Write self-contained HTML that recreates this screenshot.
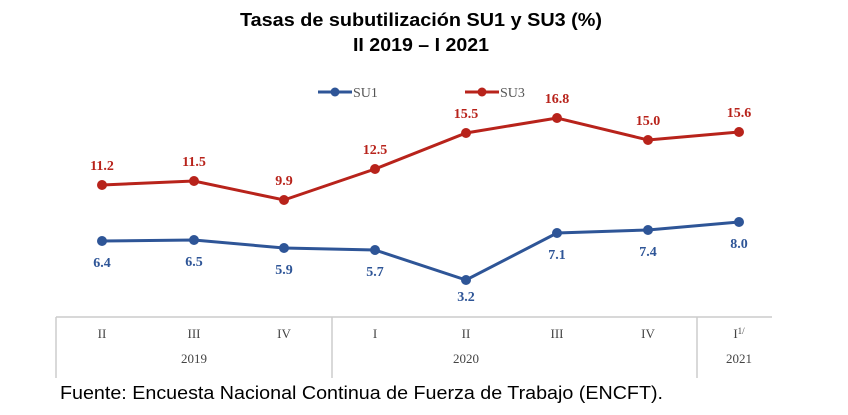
<!DOCTYPE html><html><head><style>body{margin:0;background:#fff}</style></head><body>
<svg width="848" height="410" xmlns="http://www.w3.org/2000/svg">
<rect width="848" height="410" fill="#fff"/>
<g font-family="Liberation Sans, sans-serif" font-weight="bold" font-size="18" text-anchor="middle" fill="#000">
<text x="421" y="26" textLength="362" lengthAdjust="spacingAndGlyphs">Tasas de subutilización SU1 y SU3 (%)</text>
<text x="421" y="51" textLength="136" lengthAdjust="spacingAndGlyphs">II 2019 – I 2021</text></g>
<g font-family="Liberation Serif, serif" font-size="14" fill="#555">
<line x1="318" y1="92" x2="352" y2="92" stroke="#2e5597" stroke-width="3"/><circle cx="335" cy="92" r="4.5" fill="#2e5597"/><text x="353" y="97">SU1</text>
<line x1="465" y1="92" x2="499" y2="92" stroke="#b8231b" stroke-width="3"/><circle cx="482" cy="92" r="4.5" fill="#b8231b"/><text x="500" y="97">SU3</text></g>
<polyline points="102,185 194,181 284,200 375,169 466,133 557,118 648,140 739,132" fill="none" stroke="#b8231b" stroke-width="3"/>
<polyline points="102,241 194,240 284,248 375,250 466,280 557,233 648,230 739,222" fill="none" stroke="#2e5597" stroke-width="3"/>
<g fill="#b8231b"><circle cx="102" cy="185" r="5"/><circle cx="194" cy="181" r="5"/><circle cx="284" cy="200" r="5"/><circle cx="375" cy="169" r="5"/><circle cx="466" cy="133" r="5"/><circle cx="557" cy="118" r="5"/><circle cx="648" cy="140" r="5"/><circle cx="739" cy="132" r="5"/></g>
<g fill="#2e5597"><circle cx="102" cy="241" r="5"/><circle cx="194" cy="240" r="5"/><circle cx="284" cy="248" r="5"/><circle cx="375" cy="250" r="5"/><circle cx="466" cy="280" r="5"/><circle cx="557" cy="233" r="5"/><circle cx="648" cy="230" r="5"/><circle cx="739" cy="222" r="5"/></g>
<g font-family="Liberation Serif, serif" font-weight="bold" font-size="14" text-anchor="middle" fill="#b8231b">
<text x="102" y="170">11.2</text><text x="194" y="166">11.5</text><text x="284" y="185">9.9</text><text x="375" y="154">12.5</text><text x="466" y="118">15.5</text><text x="557" y="103">16.8</text><text x="648" y="125">15.0</text><text x="739" y="117">15.6</text></g>
<g font-family="Liberation Serif, serif" font-weight="bold" font-size="14" text-anchor="middle" fill="#2e5597">
<text x="102" y="267">6.4</text><text x="194" y="266">6.5</text><text x="284" y="274">5.9</text><text x="375" y="276">5.7</text><text x="466" y="301">3.2</text><text x="557" y="259">7.1</text><text x="648" y="256">7.4</text><text x="739" y="248">8.0</text></g>
<g stroke="#ccc" stroke-width="1.5" fill="none"><line x1="56" y1="317" x2="772" y2="317"/><line x1="56" y1="317" x2="56" y2="378"/><line x1="332" y1="317" x2="332" y2="378"/><line x1="697" y1="317" x2="697" y2="378"/></g>
<g font-family="Liberation Serif, serif" font-size="13" text-anchor="middle" fill="#444">
<text x="102" y="338">II</text><text x="194" y="338">III</text><text x="284" y="338">IV</text><text x="375" y="338">I</text><text x="466" y="338">II</text><text x="557" y="338">III</text><text x="648" y="338">IV</text><text x="739" y="338">I<tspan font-size="9" dy="-4">1/</tspan></text>
<text x="194" y="363">2019</text><text x="466" y="363">2020</text><text x="739" y="363">2021</text></g>
<text x="60" y="399" font-family="Liberation Sans, sans-serif" font-size="18" fill="#000" textLength="603" lengthAdjust="spacingAndGlyphs">Fuente: Encuesta Nacional Continua de Fuerza de Trabajo (ENCFT).</text>
</svg></body></html>
